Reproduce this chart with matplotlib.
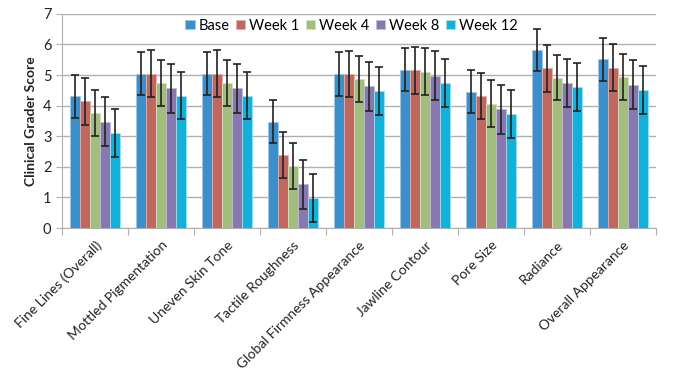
import matplotlib.pyplot as plt
import numpy as np

categories = ['Fine Lines (Overall)', 'Mottled Pigmentation', 'Uneven Skin Tone',
              'Tactile Roughness', 'Global Firmness Appearance', 'Jawline Contour',
              'Pore Size', 'Radiance', 'Overall Appearance']
series = ['Base', 'Week 1', 'Week 4', 'Week 8', 'Week 12']

base = [4.30, 5.05, 5.05, 3.48, 5.04, 5.17, 4.46, 5.82, 5.51]
week1 = [4.14, 5.05, 5.05, 2.40, 5.04, 5.15, 4.32, 5.22, 5.24]
week4 = [3.76, 4.75, 4.75, 2.02, 4.87, 5.11, 4.07, 4.92, 4.93]
week8 = [3.47, 4.57, 4.57, 1.43, 4.63, 4.97, 3.88, 4.74, 4.69]
week12 = [3.10, 4.33, 4.33, 0.98, 4.49, 4.75, 3.73, 4.60, 4.52]

err_base = [0.70, 0.70, 0.70, 0.70, 0.71, 0.70, 0.71, 0.70, 0.71]
err_week1 = [0.76, 0.76, 0.76, 0.75, 0.76, 0.77, 0.76, 0.76, 0.77]
err_week4 = [0.75, 0.75, 0.75, 0.75, 0.75, 0.76, 0.76, 0.75, 0.75]
err_week8 = [0.80, 0.80, 0.80, 0.80, 0.80, 0.80, 0.80, 0.80, 0.80]
err_week12 = [0.78, 0.78, 0.78, 0.78, 0.78, 0.78, 0.79, 0.79, 0.78]

values = [base, week1, week4, week8, week12]
errors = [err_base, err_week1, err_week4, err_week8, err_week12]
colors = ['#3D8FCC', '#C0675F', '#A3BE7C', '#8878B0', '#13B1D9']
edges = ['#9CC8EA', '#E2B0AA', '#D2E2BE', '#C4BAD8', '#9EE0F2']

plt.rcParams['font.family'] = ['Lato', 'DejaVu Sans']

fig = plt.figure(figsize=(6.8, 3.75), dpi=100)
ax = fig.add_axes([0.091, 0.392, 0.874, 0.571])

x = np.arange(len(categories))
w = 0.152
for i, (vals, errs) in enumerate(zip(values, errors)):
    pos = x + (i - 2) * w
    ax.bar(pos, vals, width=w, color=colors[i], edgecolor=edges[i], linewidth=0.6,
           label=series[i], zorder=3)
    ax.errorbar(pos, vals, yerr=errs, fmt='none', ecolor='#222222', elinewidth=1.2,
                capsize=3, capthick=1.2, zorder=4)

ax.set_xlim(-0.5, len(categories) - 0.5)
ax.set_ylim(0, 7)
ax.set_yticks(range(0, 8))
ax.yaxis.grid(True, color='#B0B0B0', linewidth=1, zorder=0)
ax.tick_params(axis='y', length=4, color='#B0B0B0', labelsize=10.5, labelcolor='#222222')

ax.set_xticks(np.arange(len(categories) + 1) - 0.5)
ax.set_xticklabels([])
ax.set_xticks(x, minor=True)
ax.set_xticklabels(categories, minor=True, rotation=45, ha='right',
                   rotation_mode='anchor', fontsize=10, color='#222222')
ax.tick_params(axis='x', which='major', length=5, color='#B0B0B0')
ax.tick_params(axis='x', which='minor', length=0, pad=8)

for side in ['top', 'right']:
    ax.spines[side].set_visible(False)
for side in ['left', 'bottom']:
    ax.spines[side].set_color('#B0B0B0')

ax.set_ylabel('Clinical Grader Score', fontsize=10, fontweight='bold', color='#222222')

ax.legend(loc='upper center', bbox_to_anchor=(0.487, 1.005), ncol=5, frameon=False,
          fontsize=10.5, handlelength=0.65, handleheight=0.65, handletextpad=0.25,
          columnspacing=0.45, borderaxespad=0)

fig.savefig('out.png', dpi=100)
